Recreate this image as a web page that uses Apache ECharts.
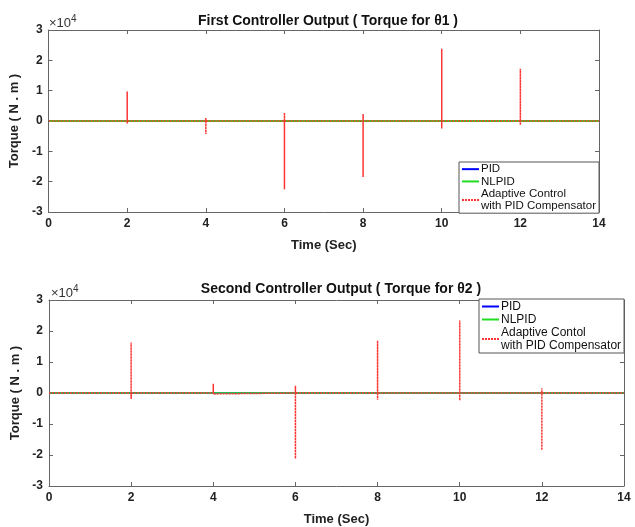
<!DOCTYPE html>
<html>
<head>
<meta charset="utf-8">
<script src="https://cdn.jsdelivr.net/npm/echarts@6/dist/echarts.min.js"></script>
<style>
  html, body { margin: 0; padding: 0; background: #fff; }
  #main { width: 635px; height: 527px; }
</style>
</head>
<body>
<div id="main"></div>
<script>
  // time span of the simulation and the zero-level controller outputs
  const simTime = [0, 14];
  const pidTorque = [0, 0];
  const nlpidTorque = [0, 0];

  // adaptive controller spikes (N.m) at each switching instant
  const spikeTimes = [2, 4, 6, 8, 10, 12];
  const tau1High = [9700, 1000, 2700, 2300, 23800, 17200];
  const tau1Low = [-1000, -4300, -22500, -18500, -2500, -1300];
  const tau2High = [16300, 3000, 2300, 16900, 23400, 1500];
  const tau2Low = [-1900, -300, -21200, -2200, -2400, -18400];

  const xTicks = [0, 2, 4, 6, 8, 10, 12, 14];
  const yTicks = [-30000, -20000, -10000, 0, 10000, 20000, 30000];

  const FONT = 'Liberation Sans, Arial, sans-serif';
  const AXIS_COL = '#666';

  function zip(xs, ys) {
    return xs.map((x, i) => [x, ys[i]]);
  }

  // spikes drawn as vertical excursions from zero
  function spikeLine(high, low) {
    let pts = [[simTime[0], 0]];
    spikeTimes.forEach((t, i) => {
      pts.push([t, 0], [t, high[i]], [t, low[i]], [t, 0]);
    });
    pts.push([simTime[1], 0]);
    return pts;
  }

  const name3a = 'Adaptive Control\nwith PID Compensator';
  const name3b = 'Adaptive Contol\nwith PID Compensator';

  function xAx(gi, pos) {
    const main = pos === 'bottom';
    return {
      type: 'value', gridIndex: gi, position: pos,
      min: xTicks[0], max: xTicks[xTicks.length - 1], interval: 2,
      name: main ? 'Time (Sec)' : '', nameLocation: 'middle', nameGap: 27,
      nameTextStyle: { fontFamily: FONT, fontWeight: 'bold', fontSize: 13, color: '#222' },
      axisLine: { show: true, onZero: false, lineStyle: { color: AXIS_COL, width: 1 } },
      axisTick: { show: true, inside: true, length: 4, lineStyle: { color: AXIS_COL } },
      axisLabel: { show: main, margin: 6, fontFamily: FONT, fontWeight: 'bold', fontSize: 12, color: '#222' },
      splitLine: { show: false }
    };
  }

  function yAx(gi, pos) {
    const main = pos === 'left';
    return {
      type: 'value', gridIndex: gi, position: pos,
      min: yTicks[0], max: yTicks[yTicks.length - 1], interval: 10000,
      name: main ? 'Torque ( N . m )' : '', nameLocation: 'middle', nameGap: 25,
      nameTextStyle: { fontFamily: FONT, fontWeight: 'bold', fontSize: 13, color: '#222' },
      axisLine: { show: true, onZero: false, lineStyle: { color: AXIS_COL, width: 1 } },
      axisTick: { show: true, inside: true, length: 4, lineStyle: { color: AXIS_COL } },
      axisLabel: {
        show: main, margin: 6, fontFamily: FONT, fontWeight: 'bold', fontSize: 12, color: '#222',
        formatter: v => String(Math.round(v / 10000))
      },
      splitLine: { show: false }
    };
  }

  function legendBox(left, top, names, fs, lh) {
    return {
      orient: 'vertical', left: left, top: top,
      data: names,
      itemGap: 0, itemWidth: 17, itemHeight: 8,
      padding: [1, 3, 1, 2],
      itemStyle: { opacity: 0 },
      backgroundColor: '#fff', borderColor: '#555', borderWidth: 1, borderRadius: 0,
      textStyle: { fontFamily: FONT, fontSize: fs, color: '#111', lineHeight: lh, padding: [0, 0, 0, -3] },
      selectedMode: false
    };
  }

  function sup(x, y) {
    return {
      type: 'text', left: x, top: y,
      style: {
        text: '×10{s|4}', fontFamily: FONT, fontSize: 13, fill: '#333',
        rich: { s: { fontSize: 10, verticalAlign: 'top', padding: [0, 0, 9, 0], fill: '#333', fontFamily: FONT } }
      }
    };
  }

  const spikeStyle = { color: '#ff3333', width: 1.5, type: [2, 1] };

  const chart = echarts.init(document.getElementById('main'));
  chart.setOption({
    backgroundColor: '#fff',
    animation: false,
    title: [
      { text: 'First Controller Output ( Torque for θ1 )', left: 323, top: 9, textAlign: 'center',
        textStyle: { fontFamily: FONT, fontWeight: 'bold', fontSize: 14, color: '#111' } },
      { text: 'Second Controller Output ( Torque for θ2 )', left: 336, top: 277, textAlign: 'center',
        textStyle: { fontFamily: FONT, fontWeight: 'bold', fontSize: 14, color: '#111' } }
    ],
    grid: [
      { left: 48, top: 30, width: 551, height: 182 },
      { left: 49, top: 300, width: 575, height: 191 }
    ],
    xAxis: [xAx(0, 'bottom'), xAx(0, 'top'), xAx(1, 'bottom'), xAx(1, 'top')],
    yAxis: [yAx(0, 'left'), yAx(0, 'right'), yAx(1, 'left'), yAx(1, 'right')],
    legend: [
      legendBox(459, 162, ['PID', 'NLPID', name3a], 11.5, 12.3),
      legendBox(479, 299, ['PID', 'NLPID', name3b], 12, 13)
    ],
    graphic: [sup(49, 14), sup(51, 284)],
    series: [
      { name: 'PID', type: 'line', xAxisIndex: 0, yAxisIndex: 0, symbol: 'none',
        data: zip(simTime, pidTorque), lineStyle: { color: '#0000ff', width: 2 }, itemStyle: { color: '#0000ff' } },
      { name: 'NLPID', type: 'line', xAxisIndex: 0, yAxisIndex: 0, symbol: 'none',
        data: zip(simTime, nlpidTorque), lineStyle: { color: '#22dd22', width: 2 }, itemStyle: { color: '#22dd22' } },
      { name: name3a, type: 'line', xAxisIndex: 0, yAxisIndex: 0, symbol: 'none',
        data: spikeLine(tau1High, tau1Low), lineStyle: spikeStyle, itemStyle: { color: '#ff3333' } },
      { name: 'PID', type: 'line', xAxisIndex: 2, yAxisIndex: 2, symbol: 'none',
        data: zip(simTime, pidTorque), lineStyle: { color: '#0000ff', width: 1.5 }, itemStyle: { color: '#0000ff' } },
      { name: 'NLPID', type: 'line', xAxisIndex: 2, yAxisIndex: 2, symbol: 'none',
        data: zip(simTime, nlpidTorque), lineStyle: { color: '#22dd22', width: 1.5 }, itemStyle: { color: '#22dd22' } },
      { name: name3b, type: 'line', xAxisIndex: 2, yAxisIndex: 2, symbol: 'none',
        data: spikeLine(tau2High, tau2Low), lineStyle: spikeStyle, itemStyle: { color: '#ff3333' } }
    ]
  });
</script>
</body>
</html>
